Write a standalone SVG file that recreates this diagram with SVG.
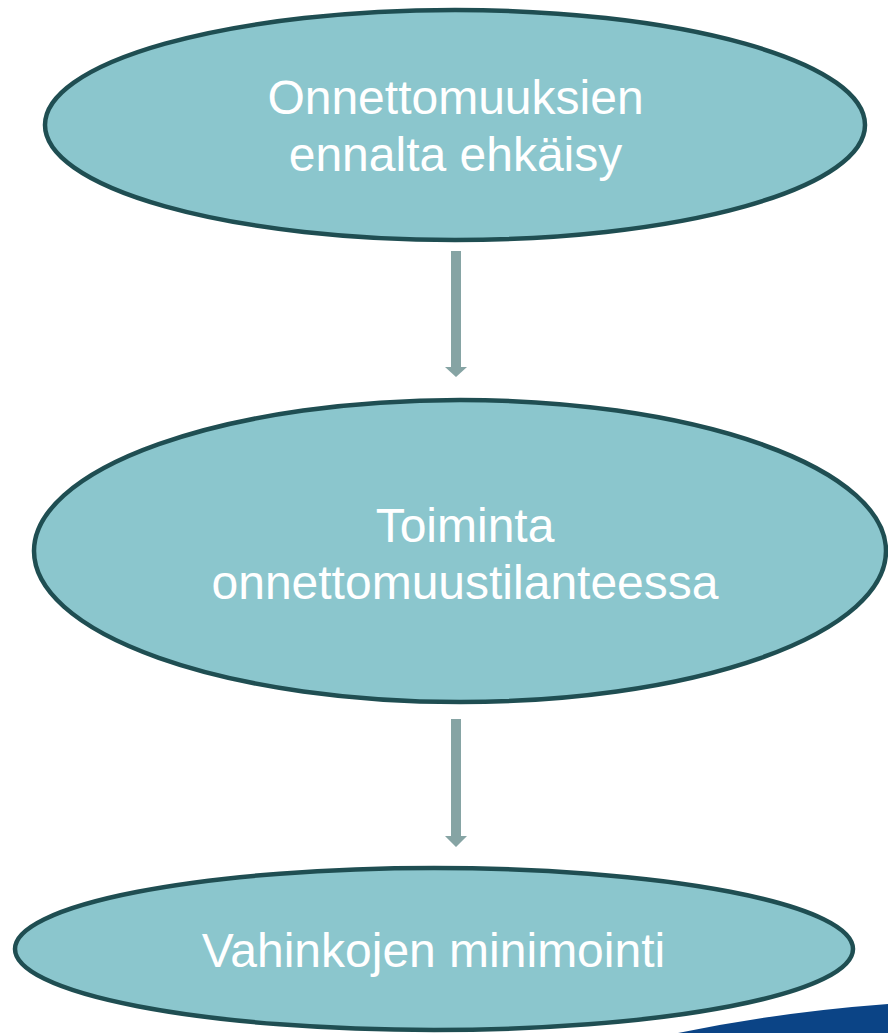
<svg xmlns="http://www.w3.org/2000/svg" width="888" height="1033" viewBox="0 0 888 1033">
<style>
.node{fill:#8bc6cd;stroke:#1f4e52;stroke-width:4.5}
.lbl{fill:#ffffff;font-family:"Liberation Sans",Arial,sans-serif;font-size:48px;text-anchor:middle}
.arr{fill:#86a4a4}
</style>
<rect width="888" height="1033" fill="#ffffff"/>
<path d="M678,1033 Q780,1012 888,1004 L888,1033 Z" fill="#0b4486"/>
<g id="connectors">
<path class="arr" d="M451,251 H461 V367 H467 L456,377 L445,367 H451 Z"/>
<path class="arr" d="M451,719 H461 V836 H467 L456,847 L445,836 H451 Z"/>
</g>
<g id="node1">
<ellipse class="node" cx="455" cy="125" rx="410" ry="115"/>
<text class="lbl" x="455.5" y="114">Onnettomuuksien</text>
<text class="lbl" x="455.5" y="171">ennalta ehkäisy</text>
</g>
<g id="node2">
<ellipse class="node" cx="460" cy="551" rx="426" ry="151"/>
<text class="lbl" x="465" y="542">Toiminta</text>
<text class="lbl" x="465" y="599">onnettomuustilanteessa</text>
</g>
<g id="node3">
<ellipse class="node" cx="434" cy="949" rx="419" ry="81"/>
<text class="lbl" x="433.5" y="967">Vahinkojen minimointi</text>
</g>
</svg>
